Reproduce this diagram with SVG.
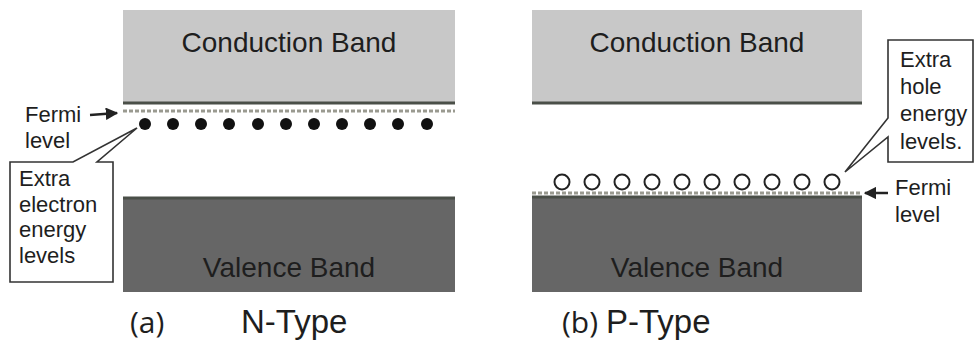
<svg xmlns="http://www.w3.org/2000/svg" width="976" height="342" viewBox="0 0 976 342">
<defs>
<style>
.t{font-family:"Liberation Sans",Arial,sans-serif;fill:#1e1e1e}
.band{font-size:28px;text-anchor:middle}
.lbl{font-size:22px}
.cap{font-size:33px}
.par{font-family:"Open Sans","Noto Sans",sans-serif;font-size:30px}
.cb{fill:#c8c8c8}
.vb{fill:#666}
.edge{stroke:#4a4f48;stroke-width:3}
.fermi{stroke:#9a9a90;stroke-width:3;stroke-dasharray:4 2}
.call{fill:#fff;stroke:#333;stroke-width:1.6}
.hole{fill:none;stroke:#222;stroke-width:2}
</style>
<marker id="ah" viewBox="0 0 10 10" refX="9" refY="5" markerWidth="5" markerHeight="5" orient="auto">
<path d="M0,0 L10,5 L0,10 z" fill="#222"/>
</marker>
</defs>
<rect width="976" height="342" fill="#fff"/>

<g id="n-conduction">
<rect class="cb" x="123" y="10" width="332" height="93"/>
<line class="edge" x1="123" y1="103" x2="455" y2="103"/>
<text class="t band" x="289" y="52">Conduction Band</text>
</g>
<g id="n-fermi-line">
<line class="fermi" x1="123" y1="111" x2="455" y2="111"/>
</g>
<g id="n-electrons" fill="#111">
<circle cx="145" cy="124" r="6"/>
<circle cx="173" cy="124" r="6"/>
<circle cx="201" cy="124" r="6"/>
<circle cx="229" cy="124" r="6"/>
<circle cx="258" cy="124" r="6"/>
<circle cx="286" cy="124" r="6"/>
<circle cx="314" cy="124" r="6"/>
<circle cx="342" cy="124" r="6"/>
<circle cx="370" cy="124" r="6"/>
<circle cx="398" cy="124" r="6"/>
<circle cx="427" cy="124" r="6"/>
</g>
<g id="n-valence">
<rect class="vb" x="123" y="197" width="332" height="95"/>
<line class="edge" x1="123" y1="198" x2="455" y2="198" stroke="#444"/>
<text class="t band" x="289" y="277">Valence Band</text>
</g>
<g id="n-fermi-label-a">
<text class="t lbl" x="25" y="122">Fermi</text>
<text class="t lbl" x="25" y="148">level</text>
</g>
<g id="n-callout-a">
<path class="call" d="M10,162 L73,162 L137,128 L97,162 L113,162 L113,282 L10,282 Z"/>
<text class="t lbl" x="19" y="186">Extra</text>
<text class="t lbl" x="19" y="212">electron</text>
<text class="t lbl" x="19" y="237">energy</text>
<text class="t lbl" x="19" y="263">levels</text>
</g>
<g id="n-caption-a">
<text class="t par" x="130" y="333">(a)</text>
<text class="t cap" x="241" y="333">N-Type</text>
</g>

<g id="n-conduction-b">
<rect class="cb" x="532" y="10" width="330" height="93"/>
<line class="edge" x1="532" y1="103" x2="862" y2="103"/>
<text class="t band" x="697" y="52">Conduction Band</text>
</g>
<g id="n-valence-b">
<rect class="vb" x="532" y="196" width="330" height="96"/>
<line class="edge" x1="532" y1="197" x2="862" y2="197" stroke="#444"/>
<text class="t band" x="697" y="277">Valence Band</text>
</g>
<g id="n-fermi-line-b">
<line class="fermi" x1="532" y1="193" x2="862" y2="193" stroke="#a39d86"/>
</g>
<g id="n-holes">
<circle class="hole" cx="562" cy="182" r="7.5"/>
<circle class="hole" cx="592" cy="182" r="7.5"/>
<circle class="hole" cx="622" cy="182" r="7.5"/>
<circle class="hole" cx="652" cy="182" r="7.5"/>
<circle class="hole" cx="682" cy="182" r="7.5"/>
<circle class="hole" cx="712" cy="182" r="7.5"/>
<circle class="hole" cx="742" cy="182" r="7.5"/>
<circle class="hole" cx="772" cy="182" r="7.5"/>
<circle class="hole" cx="802" cy="182" r="7.5"/>
<circle class="hole" cx="832" cy="182" r="7.5"/>
</g>
<g id="n-fermi-label-b">
<text class="t lbl" x="895" y="195">Fermi</text>
<text class="t lbl" x="895" y="222">level</text>
</g>
<g id="n-callout-b">
<path class="call" d="M888,40 L973,40 L973,162 L888,162 L888,137 L845,172 L888,118 Z"/>
<text class="t lbl" x="900" y="67">Extra</text>
<text class="t lbl" x="900" y="94">hole</text>
<text class="t lbl" x="900" y="121">energy</text>
<text class="t lbl" x="900" y="149">levels.</text>
</g>
<g id="n-caption-b">
<text class="t par" x="562" y="333">(b)</text>
<text class="t cap" x="606" y="333">P-Type</text>
</g>

<g id="connectors">
<line x1="90" y1="115" x2="117" y2="113" stroke="#222" stroke-width="2.5" marker-end="url(#ah)"/>
<line x1="888" y1="193" x2="865" y2="193" stroke="#222" stroke-width="2.5" marker-end="url(#ah)"/>
</g>
</svg>
